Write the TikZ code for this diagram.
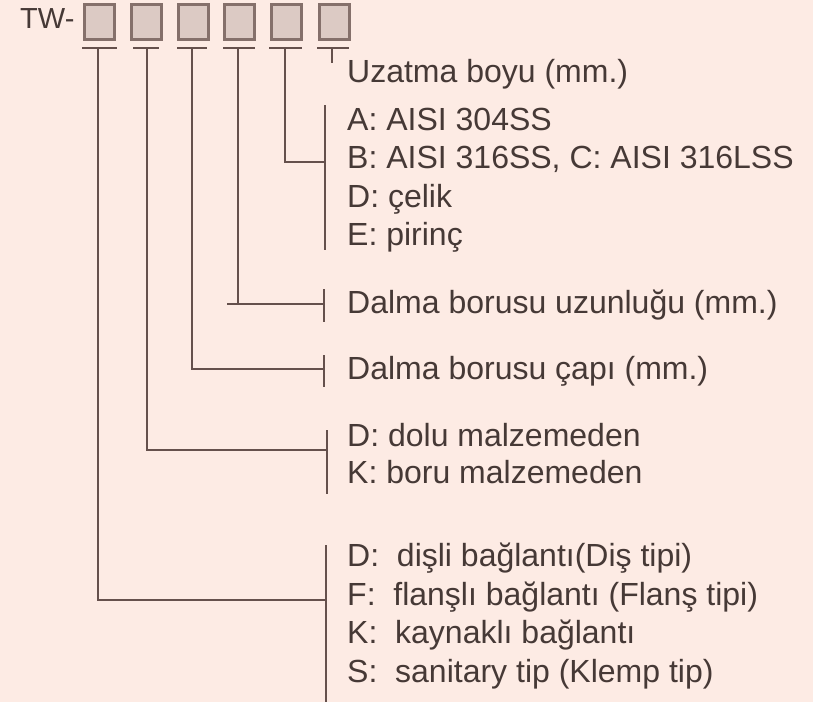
\documentclass[tikz,border=0pt]{standalone}
\usepackage{fontspec}
\setmainfont{Liberation Sans}
\definecolor{bgc}{HTML}{FDEBE4}
\definecolor{linec}{HTML}{65504C}
\definecolor{boxf}{HTML}{DCCAC4}
\definecolor{boxd}{HTML}{85706B}
\definecolor{txtc}{HTML}{463936}
\begin{document}
\begin{tikzpicture}[x=1pt,y=-1pt,
  codebox/.style={draw=boxd,fill=boxf,line width=2.8pt,minimum width=30pt,minimum height=35pt,inner sep=0pt,anchor=north west},
  lbl/.style={anchor=base west,inner sep=0pt,text=txtc,font=\fontsize{32}{38}\selectfont},
  conn/.style={draw=linec,line width=2.5pt},
  bar/.style={draw=linec,line width=2.6pt}]
\fill[bgc] (0,0) rectangle (813,702);
\useasboundingbox (0,0) rectangle (813,702);
% prefix
\node[anchor=base west,inner sep=0pt,text=txtc,font=\fontsize{29}{34}\selectfont] (tw) at (20,28) {TW-};
% boxes
\node[codebox] (b1) at (83,3) {};
\node[codebox] (b2) at (130,3) {};
\node[codebox] (b3) at (177,3) {};
\node[codebox] (b4) at (223,3) {};
\node[codebox] (b5) at (270,3) {};
\node[codebox] (b6) at (318,3) {};
% bars under boxes
\coordinate (u1) at (98,48);
\coordinate (u2) at (147,48);
\coordinate (u3) at (192,48);
\coordinate (u4) at (238,48);
\coordinate (u5) at (285,48);
\coordinate (u6) at (332,48);
\draw[bar] (82,48) -- (117,48);
\draw[bar] (133,48) -- (159,48);
\draw[bar] (177,48) -- (207,48);
\draw[bar] (223,48) -- (255,48);
\draw[bar] (269,48) -- (302,48);
\draw[bar] (317,48) -- (349,48);
% labels
\node[lbl] (t6) at (347,82) {Uzatma boyu (mm.)};
\node[lbl] (t5a) at (347,130) {A: AISI 304SS};
\node[lbl] (t5b) at (347,168) {B: AISI 316SS, C: AISI 316LSS};
\node[lbl] (t5c) at (347,207) {D: çelik};
\node[lbl] (t5d) at (347,245) {E: pirinç};
\node[lbl] (t4) at (347,313) {Dalma borusu uzunluğu (mm.)};
\node[lbl] (t3) at (347,379) {Dalma borusu çapı (mm.)};
\node[lbl] (t2a) at (347,446) {D: dolu malzemeden};
\node[lbl] (t2b) at (347,483) {K: boru malzemeden};
\node[lbl] (t1a) at (347,566) {D:\ \ dişli bağlantı(Diş tipi)};
\node[lbl] (t1b) at (347,605) {F:\ \ flanşlı bağlantı (Flanş tipi)};
\node[lbl] (t1c) at (347,643) {K:\ \ kaynaklı bağlantı};
\node[lbl] (t1d) at (347,682) {S:\ \ sanitary tip (Klemp tip)};
% connectors
\coordinate (d6) at (332,63);
\draw[conn] (u6) -- (d6);
\coordinate (k5) at (325,162);
\draw[conn] (u5) |- (k5);
\draw[bar] (325,105) -- (325,250);
\coordinate (k4) at (324,304);
\draw[conn] (u4) -- (238,304) -- (k4);
\draw[conn] (227,304) -- (238,304);
\draw[bar] (324,289) -- (324,322);
\coordinate (k3) at (324,369);
\draw[conn] (u3) |- (k3);
\draw[bar] (324,355) -- (324,387);
\coordinate (k2) at (327,450);
\draw[conn] (u2) |- (k2);
\draw[bar] (327,430) -- (327,494);
\coordinate (k1) at (326,600);
\draw[conn] (u1) |- (k1);
\draw[bar] (326,545) -- (326,702);
\end{tikzpicture}
\end{document}
